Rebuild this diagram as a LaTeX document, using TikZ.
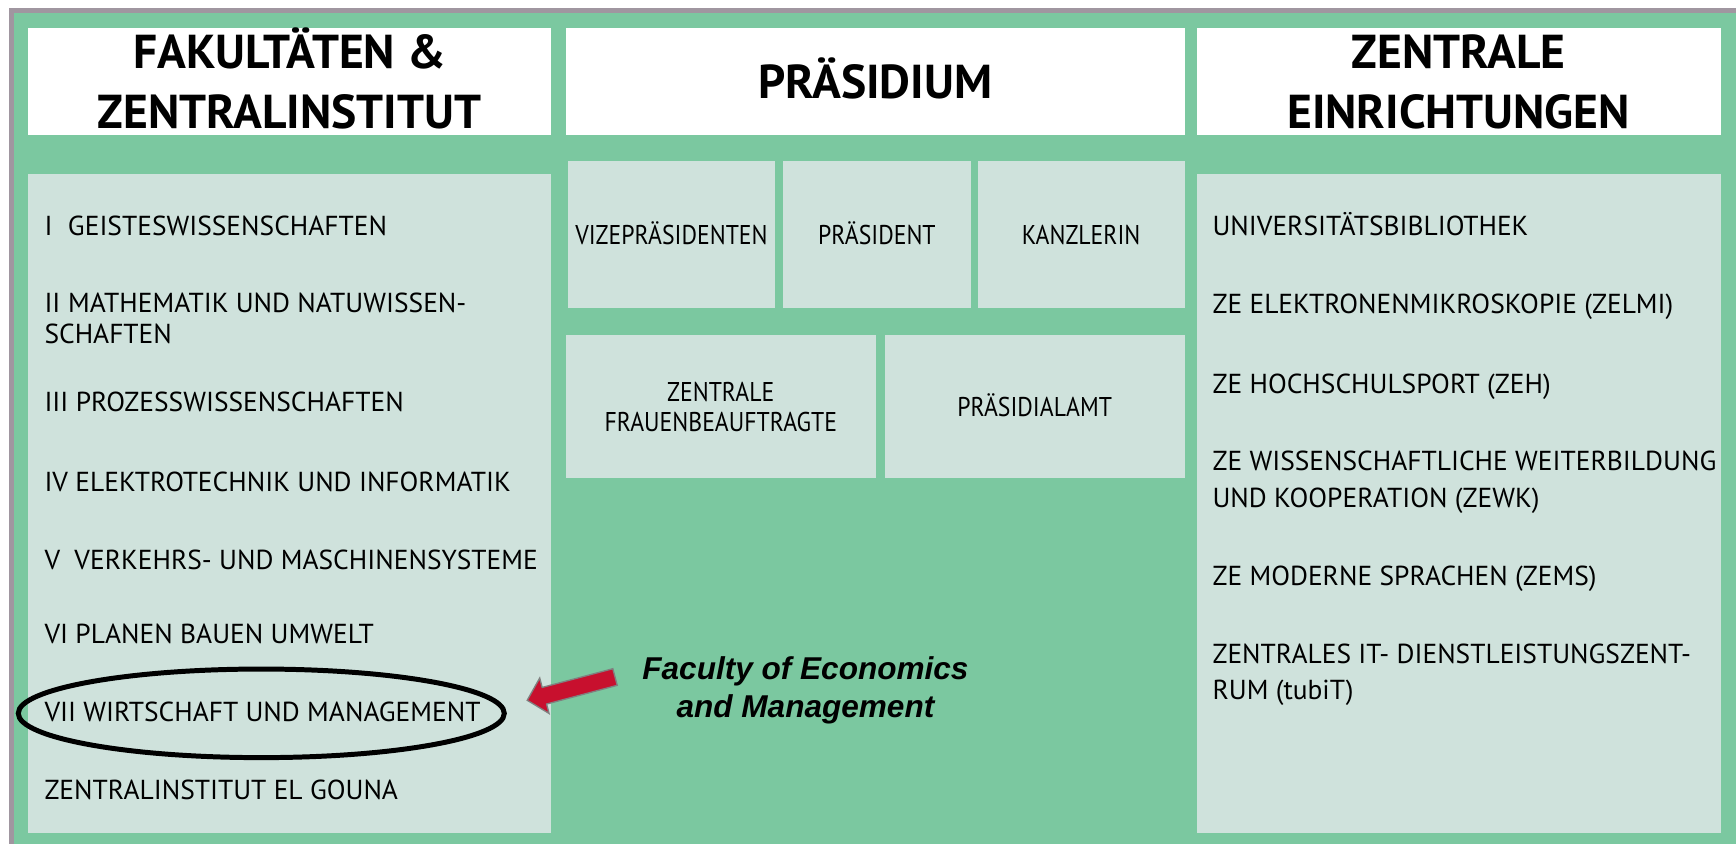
\documentclass[tikz,border=0pt]{standalone}
\usepackage{fontspec}
\setmainfont{PT Sans}
\newfontfamily\capfont{Liberation Sans}
\usepackage{graphicx}
\usepackage{xcolor}

\definecolor{tubgreen}{HTML}{7BC8A0}
\definecolor{tubpale}{HTML}{CFE2DC}
\definecolor{framegray}{HTML}{A096A0}
\definecolor{arrowred}{HTML}{C8102E}

\newcommand{\squeeze}[1]{\scalebox{0.875}[1]{#1}}

\tikzset{
  panel/.style={fill=tubpale},
  headbox/.style={fill=white},
  headtext/.style={font=\fontsize{43}{43}\selectfont\bfseries, anchor=base, inner sep=0pt},
  itemtext/.style={font=\fontsize{24.8}{24.8}\selectfont, anchor=base west, inner sep=0pt},
  boxtext/.style={font=\fontsize{24.5}{24.5}\selectfont, anchor=base, inner sep=0pt},
  captext/.style={font=\capfont\fontsize{28.5}{28.5}\selectfont\bfseries\itshape, anchor=base, inner sep=0pt},
}

\begin{document}
\begin{tikzpicture}[x=1pt, y=-1pt]
            \useasboundingbox (0,0) rectangle (1568,762);
            \fill[framegray] (8,7) rectangle (1568,762);
            \fill[tubgreen] (13,12) rectangle (1568,762);

            % header boxes
            \fill[headbox] (25,25) rectangle (498,122);
            \fill[headbox] (511,25) rectangle (1070,122);
            \fill[headbox] (1081,25) rectangle (1554,122);
            \node[headtext] (hfak1) at (261.5,62.3) {FAKULTÄTEN \&};
            \node[headtext] (hfak2) at (261.5,115.8) {ZENTRALINSTITUT};
            \node[headtext] (hpraes) at (790.5,89.4) {PRÄSIDIUM};
            \node[headtext] (hze1) at (1317.5,62.3) {ZENTRALE};
            \node[headtext] (hze2) at (1317.5,115.8) {EINRICHTUNGEN};

            % faculties
            \fill[panel] (25,157) rectangle (498,752);
            \node[itemtext] (f1) at (40,212.5) {I\hspace{14pt}GEISTESWISSENSCHAFTEN};
            \node[itemtext] (f2) at (40,282.5) {II\hspace{7pt}MATHEMATIK UND NATUWISSEN-};
            \node[itemtext] (f2b) at (40,310) {SCHAFTEN};
            \node[itemtext] (f3) at (40,372) {III PROZESSWISSENSCHAFTEN};
            \node[itemtext] (f4) at (40,443.5) {IV ELEKTROTECHNIK UND INFORMATIK};
            \node[itemtext] (f5) at (40,514) {V\hspace{13pt}VERKEHRS- UND MASCHINENSYSTEME};
            \node[itemtext] (f6) at (40,581.5) {VI PLANEN BAUEN UMWELT};
            \node[itemtext] (f7) at (40,651.5) {VII WIRTSCHAFT UND MANAGEMENT};
            \node[itemtext] (f8) at (40,722) {ZENTRALINSTITUT EL GOUNA};
            \draw[line width=4.5pt] (236,644.3) ellipse [x radius=219.5, y radius=40]; % VII

            % presidium
            \fill[panel] (513,145) rectangle (700,278);
            \fill[panel] (707,145) rectangle (877,278);
            \fill[panel] (883,145) rectangle (1070,278);
            \fill[panel] (511,303) rectangle (791,432);
            \fill[panel] (799,303) rectangle (1070,432);
            \node[boxtext] (vize) at (606.5,221) {\squeeze{VIZEPRÄSIDENTEN}};
            \node[boxtext] (praes) at (792,221) {\squeeze{PRÄSIDENT}};
            \node[boxtext] (kanz) at (976.5,221) {\squeeze{KANZLERIN}};
            \node[boxtext] (frau1) at (651,362.8) {\squeeze{ZENTRALE}};
            \node[boxtext] (frau2) at (651,390) {\squeeze{FRAUENBEAUFTRAGTE}};
            \node[boxtext] (amt) at (934.5,376.4) {\squeeze{PRÄSIDIALAMT}};

            % central institutions
            \fill[panel] (1081,157) rectangle (1554,752);
            \node[itemtext] (z1) at (1095,212.5) {UNIVERSITÄTSBIBLIOTHEK};
            \node[itemtext] (z2) at (1095,283.5) {ZE ELEKTRONENMIKROSKOPIE (ZELMI)};
            \node[itemtext] (z3) at (1095,355) {ZE HOCHSCHULSPORT (ZEH)};
            \node[itemtext] (z4) at (1095,425) {ZE WISSENSCHAFTLICHE WEITERBILDUNG};
            \node[itemtext] (z4b) at (1095,458.3) {UND KOOPERATION (ZEWK)};
            \node[itemtext] (z5) at (1095,529) {ZE MODERNE SPRACHEN (ZEMS)};
            \node[itemtext] (z6) at (1095,599) {ZENTRALES IT- DIENSTLEISTUNGSZENT-};
            \node[itemtext] (z6b) at (1095,632) {RUM (tubiT)};

            % caption and pointer
            \node[captext] (cap1) at (727.5,613.6) {Faculty of Economics};
            \node[captext] (cap2) at (727.5,648) {and Management};
            \draw[fill=arrowred, draw=gray, line width=1.2pt, line join=miter]
                (553.5,604.0) -- (489.7,620.9) -- (487.5,612.4) -- (476.2,632.5)
                -- (495.9,644.4) -- (493.7,635.9) -- (557.5,619.0) -- cycle;
\end{tikzpicture}
\end{document}
